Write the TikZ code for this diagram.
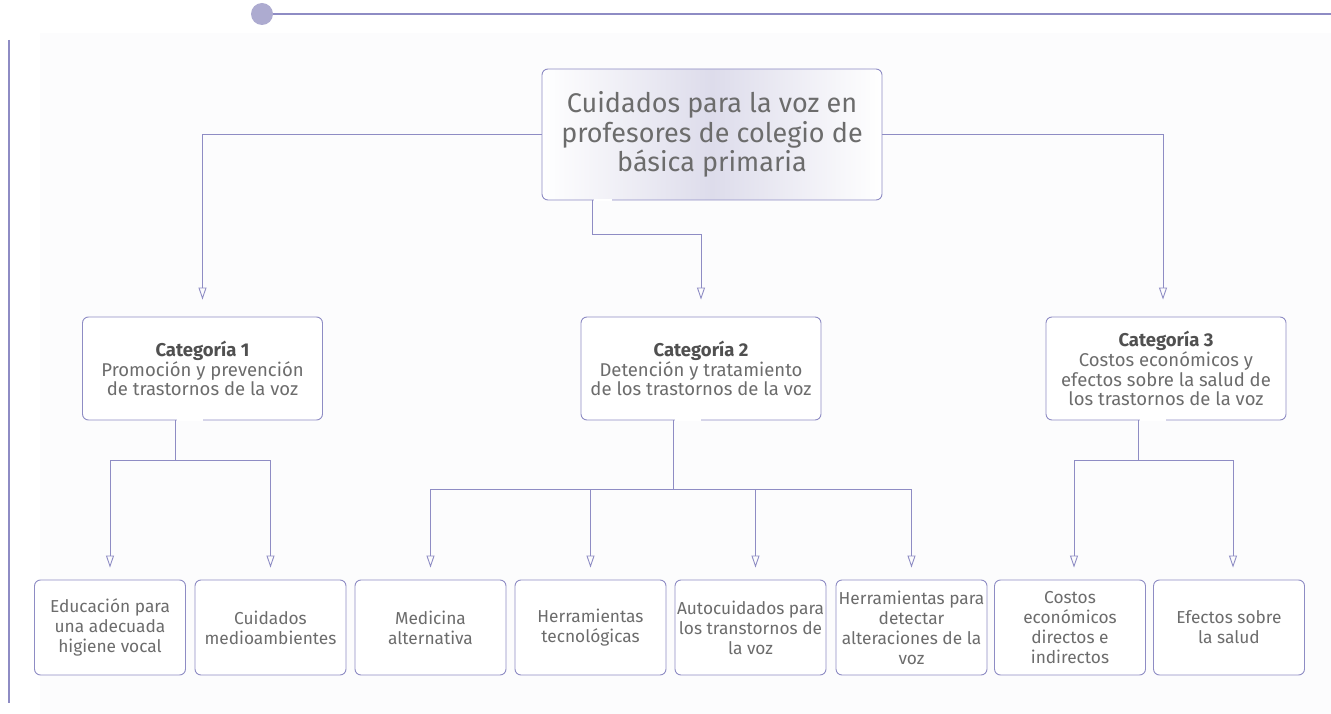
\documentclass[tikz,border=0pt]{standalone}
\usepackage{fontspec}
\setmainfont{Fira Sans}
\usetikzlibrary{arrows.meta}
\definecolor{lila}{RGB}{142,140,196}
\definecolor{lilapunto}{RGB}{173,171,208}
\definecolor{lilamedio}{RGB}{221,220,235}
\definecolor{gristexto}{RGB}{108,108,108}
\definecolor{grisfuerte}{RGB}{80,80,80}
\definecolor{fondo}{RGB}{252,252,253}
\tikzset{
  caja/.style={draw=lila, line width=0.9pt, rounded corners=6pt, fill=white,
    text=gristexto, align=center, inner sep=0pt},
  raiz/.style={caja, minimum width=340pt, minimum height=131pt,
    left color=white, right color=white, middle color=lilamedio,
    font=\fontsize{27}{29.5}\selectfont},
  categoria/.style={caja, minimum width=240pt, minimum height=103pt,
    font=\fontsize{18.5}{19.8}\selectfont},
  hoja/.style={caja, minimum width=151pt, minimum height=95pt,
    font=\fontsize{17.3}{20}\selectfont},
  linea/.style={draw=lila, line width=0.9pt},
  flecha/.style={linea, -{Triangle[open,length=12pt,width=8pt]}},
  corte/.style={draw=white, line width=2pt},
}
\newcommand{\cat}[1]{{\bfseries\color{grisfuerte}#1}}
\begin{document}
\begin{tikzpicture}[x=1pt,y=-1pt]
\useasboundingbox (0,0) rectangle (1331,714);
\fill[fondo] (40,33) rectangle (1331,714);
% adorno superior y margen
\draw[lila, line width=2pt] (9,40) -- (9,703);
\draw[lila, line width=1.6pt] (262,14) -- (1331,14);
\fill[lilapunto] (262,14) circle (11);

% nodos
\node[raiz] (root) at (712,134.5) {Cuidados para la voz en\\profesores de colegio de\\básica primaria};

\node[categoria] (c1) at (202.5,368.5) {\cat{Categoría 1}\\Promoción y prevención\\de trastornos de la voz};
\node[categoria] (c2) at (701,368.5) {\cat{Categoría 2}\\Detención y tratamiento\\de los trastornos de la voz};
\node[categoria] (c3) at (1166,368.5) {\cat{Categoría 3}\\Costos económicos y\\efectos sobre la salud de\\los trastornos de la voz};

\node[hoja] (h1) at (110,627.5) {Educación para\\una adecuada\\higiene vocal};
\node[hoja] (h2) at (270.5,627.5) {Cuidados\\medioambientes};
\node[hoja] (h3) at (430.5,627.5) {Medicina\\alternativa};
\node[hoja] (h4) at (590.5,627.5) {Herramientas\\tecnológicas};
\node[hoja] (h5) at (750.5,627.5) {Autocuidados para\\los transtornos de\\la voz};
\node[hoja] (h6) at (911.5,627.5) {Herramientas para\\detectar\\alteraciones de la\\voz};
\node[hoja] (h7) at (1070,627.5) {Costos\\económicos\\directos e\\indirectos};
\node[hoja] (h8) at (1229,627.5) {Efectos sobre\\la salud};

% uniones
\coordinate (jr) at (592,234);
\coordinate (j1) at (175,460);
\coordinate (j2) at (673,489);
\coordinate (j3) at (1138,460);

% cortes en el borde inferior
\draw[corte] ([xshift=1.5pt]root.south -| jr) -- ([xshift=20pt]root.south -| jr);
\draw[corte] ([xshift=1.5pt]c1.south -| j1) -- (c1.south);
\draw[corte] ([xshift=1.5pt]c2.south -| j2) -- (c2.south);
\draw[corte] ([xshift=1.5pt]c3.south -| j3) -- (c3.south);

% raiz a categorias
\draw[flecha, shorten >=17pt] (root.west) -| (c1.north);
\draw[flecha, shorten >=17pt] (root.east) -| ([xshift=-3pt]c3.north);
\draw[linea] (root.south -| jr) -- (jr);
\draw[flecha, shorten >=17pt] (jr) -| (c2.north);

% categoria 1
\draw[linea] (c1.south -| j1) -- (j1);
\draw[flecha, shorten >=12pt] (j1) -| (h1.north);
\draw[flecha, shorten >=12pt] (j1) -| (h2.north);

% categoria 2
\draw[linea] (c2.south -| j2) -- (j2);
\draw[flecha, shorten >=12pt] (j2) -| (h3.north);
\draw[flecha, shorten >=12pt] (j2) -| (h4.north);
\draw[flecha, shorten >=12pt] (j2) -| ([xshift=5pt]h5.north);
\draw[flecha, shorten >=12pt] (j2) -| (h6.north);

% categoria 3
\draw[linea] (c3.south -| j3) -- (j3);
\draw[flecha, shorten >=12pt] (j3) -| ([xshift=4pt]h7.north);
\draw[flecha, shorten >=12pt] (j3) -| ([xshift=4pt]h8.north);
\end{tikzpicture}
\end{document}
